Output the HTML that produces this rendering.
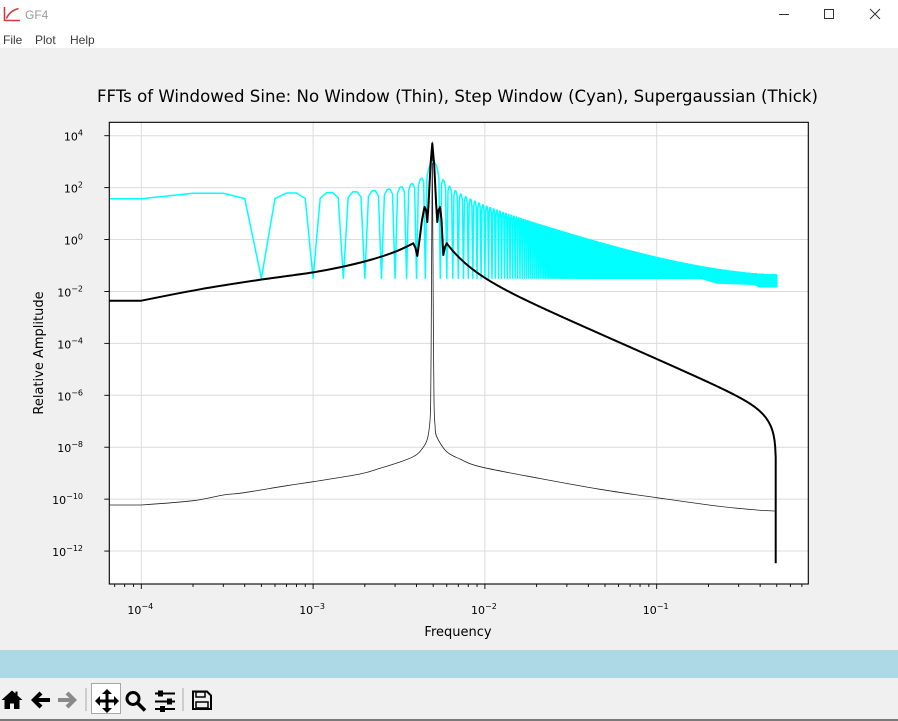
<!DOCTYPE html>
<html><head><meta charset="utf-8">
<style>
html,body{margin:0;padding:0;width:898px;height:721px;overflow:hidden;background:#f0f0f0;}
svg{display:block}
</style></head><body>
<svg id="s" width="898" height="721" viewBox="0 0 898 721" xmlns="http://www.w3.org/2000/svg" font-family="'DejaVu Sans', 'Liberation Sans', sans-serif">
<defs>
<clipPath id="ax"><rect x="109.3" y="122.3" width="699" height="461.7"/></clipPath>
</defs>
<rect x="0" y="0" width="898" height="48" fill="#ffffff"/>
<rect x="0" y="48" width="898" height="602" fill="#f0f0f0"/>
<rect x="0" y="650" width="898" height="28" fill="#add8e6"/>
<rect x="0" y="678" width="898" height="41" fill="#f0f0f0"/>
<rect x="0" y="719" width="898" height="2" fill="#7a7a7a"/>
<path d="M4.5 7 V20.5 H20" stroke="#d03a3a" stroke-width="1.6" fill="none"/>
<path d="M6.5 18.5 Q9.5 11 18.5 8.5" stroke="#d03a3a" stroke-width="1.6" fill="none"/>
<text x="25" y="19" font-family="'Liberation Sans', sans-serif" font-size="12" fill="#9a9a9a">GF4</text>
<text x="3" y="44" font-family="'Liberation Sans', sans-serif" font-size="12" fill="#3a3a3a">File</text>
<text x="35" y="44" font-family="'Liberation Sans', sans-serif" font-size="12" fill="#3a3a3a">Plot</text>
<text x="70" y="44" font-family="'Liberation Sans', sans-serif" font-size="12" fill="#3a3a3a">Help</text>
<line x1="779" y1="14.5" x2="789" y2="14.5" stroke="#333" stroke-width="1"/>
<rect x="824.5" y="9.5" width="9" height="9" fill="none" stroke="#333" stroke-width="1"/>
<path d="M870 9 L880 19 M880 9 L870 19" stroke="#333" stroke-width="1"/>

<text x="457.5" y="102" text-anchor="middle" font-size="17" fill="#000" textLength="721" lengthAdjust="spacingAndGlyphs">FFTs of Windowed Sine: No Window (Thin), Step Window (Cyan), Supergaussian (Thick)</text>

<rect x="109.3" y="122.3" width="699" height="461.7" fill="#ffffff"/>
<g id="grid" stroke="#dcdcdc" stroke-width="1"></g>
<g clip-path="url(#ax)">
  <path id="thin" fill="none" stroke="#222" stroke-width="0.8" stroke-linejoin="round"/>
  <path id="cyan" fill="none" stroke="#00ffff" stroke-width="1.5" stroke-linejoin="round"/>
  <path id="thick" fill="none" stroke="#000" stroke-width="2" stroke-linejoin="round"/>
</g>
<rect x="109.3" y="122.3" width="699" height="461.7" fill="none" stroke="#000" stroke-width="1.1"/>
<g id="ticks" stroke="#000" stroke-width="0.9"></g>
<g id="labels" font-size="11" fill="#000"></g>

<text x="458" y="636" text-anchor="middle" font-size="13" fill="#000">Frequency</text>
<text transform="translate(43,353) rotate(-90)" text-anchor="middle" font-size="13" fill="#000">Relative Amplitude</text>

<polygon points="12,690.5 1.5,700 4.5,700 4.5,709 10,709 10,703.5 14,703.5 14,709 19.5,709 19.5,700 22.5,700 17.5,695.5 17.5,691.5 15.5,691.5 15.5,693.5" fill="#000"/>
<polygon points="31,700 39.5,691.5 42.5,694.5 38.5,698 50,698 50,702 38.5,702 42.5,705.5 39.5,708.5" fill="#000"/>
<polygon points="77,700 68.5,691.5 65.5,694.5 69.5,698 58,698 58,702 69.5,702 65.5,705.5 68.5,708.5" fill="#8a8a8a"/>
<line x1="86" y1="688" x2="86" y2="711" stroke="#aaa" stroke-width="1"/>
<rect x="91.5" y="683.5" width="29" height="30" fill="#ffffff" stroke="#a8a8a8" stroke-width="1"/>
<path d="M97 701 H117 M107 691 V711" stroke="#000" stroke-width="3"/>
<polygon points="95,701 100,696 100,706" fill="#000"/>
<polygon points="119,701 114,696 114,706" fill="#000"/>
<polygon points="107,689 102,694 112,694" fill="#000"/>
<polygon points="107,713 102,708 112,708" fill="#000"/>
<circle cx="133" cy="698.5" r="6" fill="none" stroke="#000" stroke-width="3"/>
<line x1="137.5" y1="703" x2="145" y2="710.5" stroke="#000" stroke-width="3.5"/>
<path d="M155 693.5 H175 M155 701.5 H175 M155 709 H175" stroke="#000" stroke-width="2"/>
<rect x="158" y="690.5" width="5" height="6" fill="#000"/>
<rect x="167" y="698.5" width="5" height="6" fill="#000"/>
<rect x="160" y="706" width="5" height="6" fill="#000"/>
<line x1="183" y1="688" x2="183" y2="711" stroke="#aaa" stroke-width="1"/>
<path d="M193 691.5 H207 L211 695.5 V709 H193 Z" fill="none" stroke="#000" stroke-width="2"/>
<rect x="196" y="692" width="9" height="5" fill="none" stroke="#000" stroke-width="1.5"/>
<rect x="196" y="702" width="12" height="6" fill="none" stroke="#000" stroke-width="1.5"/>
</svg>
<script>
(function(){
var NS="http://www.w3.org/2000/svg";
function X(f){return 141.3+(Math.log10(f)+4)*171.8;}
function Y(v){return 135.7+(4-Math.log10(v))*25.96;}
function mk(tag,attrs,parent,txt){var e=document.createElementNS(NS,tag);for(var k in attrs)e.setAttribute(k,attrs[k]);if(txt!==undefined)e.textContent=txt;parent.appendChild(e);return e;}
function lin(a,start){var s=start?('M'+a[0][0].toFixed(2)+' '+a[0][1].toFixed(2)):'';for(var i=start?1:0;i<a.length;i++)s+=' L'+a[i][0].toFixed(2)+' '+a[i][1].toFixed(2);return s;}
function smooth(a){
  var n=a.length;
  function tan(i){
    if(a[i][2]||i===0||i===n-1) return [0,0];
    return [(a[i+1][0]-a[i-1][0])/6,(a[i+1][1]-a[i-1][1])/6];
  }
  var s='M'+a[0][0].toFixed(2)+' '+a[0][1].toFixed(2);
  for(var i=0;i<n-1;i++){
    var t1=tan(i),t2=tan(i+1);
    s+=' C'+(a[i][0]+t1[0]).toFixed(2)+' '+(a[i][1]+t1[1]).toFixed(2)+' '+(a[i+1][0]-t2[0]).toFixed(2)+' '+(a[i+1][1]-t2[1]).toFixed(2)+' '+a[i+1][0].toFixed(2)+' '+a[i+1][1].toFixed(2);
  }
  return s;
}
var grid=document.getElementById('grid'),ticks=document.getElementById('ticks'),labels=document.getElementById('labels');
for(var d=-4;d<=-1;d++){var x=X(Math.pow(10,d));
 mk('line',{x1:x,y1:122.3,x2:x,y2:584},grid);
 mk('line',{x1:x,y1:584,x2:x,y2:589},ticks);
 var t=mk('text',{x:x-1,y:614,'text-anchor':'middle'},labels);
 mk('tspan',{},t,'10');mk('tspan',{dy:-5,'font-size':8},t,'\u2212'+(-d));
}
for(var d=-5;d<=0;d++){for(var m=2;m<=9;m++){var x=X(m*Math.pow(10,d));if(x<109.3||x>808.3)continue;
 mk('line',{x1:x,y1:584,x2:x,y2:587},ticks);}}
for(var e=4;e>=-12;e-=2){var y=Y(Math.pow(10,e));
 mk('line',{x1:109.3,y1:y,x2:808.3,y2:y},grid);
 mk('line',{x1:104.3,y1:y,x2:109.3,y2:y},ticks);
 var t=mk('text',{x:83,y:y+5,'text-anchor':'end'},labels);
 mk('tspan',{},t,'10');mk('tspan',{dy:-5,'font-size':8},t,(e<0?'\u2212'+(-e):''+e));
}
// cyan
var f0=0.005,L=2000,sn=0.045,cs=Math.sqrt(1-sn*sn);
var FP=[[0,278.3],[701,278.3],[717,283],[755,284.3],[759,286.7],[900,286.7]];
function floorY(x){for(var i=1;i<FP.length;i++){if(x<=FP[i][0]){var t=(x-FP[i-1][0])/(FP[i][0]-FP[i-1][0]);return FP[i-1][1]+t*(FP[i][1]-FP[i-1][1]);}}return 286.7;}
var c=[];
for(var k=1;k<=5000;k++){var f=k*1e-4;var s=(k%5===0)?0:Math.sin(0.2*Math.PI*k);
 var D1=(k===50)?L:s/Math.sin(Math.PI*(f-f0));var D2=s/Math.sin(Math.PI*(f+f0));
 var v=0.5*Math.sqrt(Math.pow((D1-D2)*cs,2)+Math.pow((D1+D2)*sn,2));
 var x=X(f);var y=v>0?Y(v):1e6;var fy=floorY(x);if(y>fy)y=fy;c.push([x,y]);}
c.unshift([105,c[0][1]]);
document.getElementById('cyan').setAttribute('d',lin(c,true));
// thick
var left=[[105,300.7,1],[141.3,300.7,1],[200,289.3],[260,279.8],[312.3,272.5],[340,267.3],[370,260],[395,251.8],[413.3,243.3,1]];
var peak=[[415.5,248],[417.3,256],[419.5,240],[422,220],[424.5,207],[426,210],[427.3,222],[428.5,205],[430.5,165],[432.3,143.5],[434.2,165],[436.2,205],[437.3,222],[438.6,210],[440,207],[441.5,220],[443.3,255],[445,247]];
var right=[];
for(var x=446.7;x<=775.7;x+=0.5){
  var dx=x-446.7;
  var y=243.3+0.44*dx+23*(1-Math.exp(-dx/26));
  var dd=776-x; if(dd<0.3)dd=0.3;
  y+=10.17*Math.log(1+Math.pow(28.2/dd,2))/2;
  right.push([x,y]);
}
right.push([775.7,563.3]);
document.getElementById('thick').setAttribute('d',smooth(left)+lin(peak,false)+lin(right,false));
// thin
var thin=[[105,505,1],[141.3,505,1],[193.3,500.7],[223.3,495],[243.3,492.8],[286.7,485.7],[313.3,481.7],[360,474],[380,468.3],[400,462],[413.3,456.7],[420,451.5],[426.7,441],[429.5,426],[430.7,400],[431.4,300,1],[432.3,142,1],[433.2,300,1],[434,400],[435,425],[436.7,436.7],[446.7,451.7],[460,459],[480,466.7],[540,478.5],[600,489.3],[656.7,497.7],[716.7,506],[756.7,510],[775.5,511,1]];
document.getElementById('thin').setAttribute('d',smooth(thin));
})();
</script>
</body></html>
